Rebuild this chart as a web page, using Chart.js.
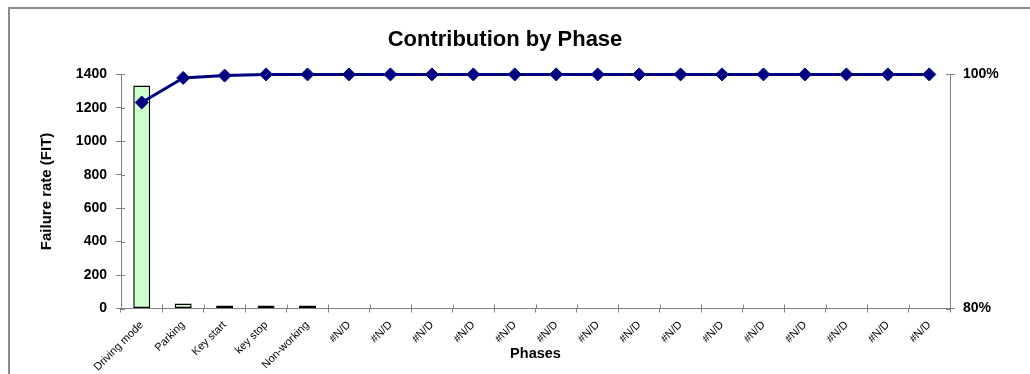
<!DOCTYPE html>
<html>
<head>
<meta charset="utf-8">
<script src="https://cdn.jsdelivr.net/npm/chart.js@4.4.1/dist/chart.umd.min.js"></script>
<style>
  html, body { margin: 0; padding: 0; background: #ffffff; overflow: hidden; }
  #frame { position: absolute; left: 8px; top: 7px; width: 1040px; height: 400px; border: 2px solid #8a8a8a; box-sizing: border-box; }
  #wrap { position: absolute; left: 0; top: 0; width: 1030px; height: 374px; }
</style>
</head>
<body>
<div id="frame"></div>
<div id="wrap"><canvas id="c" width="1030" height="374"></canvas></div>
<script>
const categories = ["Driving mode", "Parking", "Key start", "key stop", "Non-working",
  "#N/D", "#N/D", "#N/D", "#N/D", "#N/D", "#N/D", "#N/D", "#N/D", "#N/D", "#N/D",
  "#N/D", "#N/D", "#N/D", "#N/D", "#N/D"];
const failureRate = [1333, 30, 3, 3, 3, null, null, null, null, null, null, null, null, null, null, null, null, null, null, null];
const cumulativePct = [97.6, 99.7, 99.9, 100, 100, 100, 100, 100, 100, 100, 100, 100, 100, 100, 100, 100, 100, 100, 100, 100];
const leftTicks = [0, 200, 400, 600, 800, 1000, 1200, 1400];
const rightTicks = [80, 100];

const FONT = "'Liberation Sans', Arial, sans-serif";
const AXIS = '#808080';

// draws the inner half of Excel-style "cross" tick marks
const crossTicks = {
  id: 'crossTicks',
  afterDatasetsDraw(chart) {
    const ctx = chart.ctx;
    const x = chart.scales.x, y = chart.scales.y, y1 = chart.scales.y1;
    ctx.save();
    ctx.strokeStyle = AXIS;
    ctx.lineWidth = 1;
    ctx.beginPath();
    const half = (x.getPixelForValue(1) - x.getPixelForValue(0)) / 2;
    for (let i = 0; i <= categories.length; i++) {
      const px = Math.round(x.getPixelForValue(i) - half) + 0.5;
      ctx.moveTo(px, x.top);
      ctx.lineTo(px, x.top - 4);
    }
    leftTicks.forEach(v => {
      const py = Math.round(y.getPixelForValue(v)) + 0.5;
      ctx.moveTo(y.right, py);
      ctx.lineTo(y.right + 4, py);
    });
    rightTicks.forEach(v => {
      const py = Math.round(y1.getPixelForValue(v)) + 0.5;
      ctx.moveTo(y1.left, py);
      ctx.lineTo(y1.left - 4, py);
    });
    ctx.stroke();
    ctx.restore();
  }
};

new Chart(document.getElementById('c'), {
  data: {
    labels: categories,
    datasets: [
      {
        type: 'line',
        data: cumulativePct,
        yAxisID: 'y1',
        borderColor: '#000080',
        backgroundColor: '#000080',
        borderWidth: 3,
        pointStyle: 'rectRot',
        pointRadius: 6.5,
        pointBackgroundColor: '#000080',
        pointBorderColor: '#000080',
        pointBorderWidth: 1,
        tension: 0,
        clip: false,
        order: 0
      },
      {
        type: 'bar',
        data: failureRate,
        yAxisID: 'y',
        backgroundColor: '#ccffcc',
        borderColor: '#000000',
        borderWidth: 1.5,
        borderSkipped: false,
        minBarLength: 3,
        barPercentage: 0.41,
        categoryPercentage: 1,
        order: 1
      }
    ]
  },
  plugins: [crossTicks],
  options: {
    responsive: false,
    animation: false,
    events: [],
    layout: { padding: { left: 0, right: 20, top: 0, bottom: 0 } },
    plugins: {
      legend: { display: false },
      tooltip: { enabled: false },
      title: {
        display: true,
        text: 'Contribution by Phase',
        color: '#000000',
        font: { family: FONT, size: 22, weight: 'bold', lineHeight: 1.2 },
        padding: { top: 27, bottom: 21 }
      }
    },
    scales: {
      x: {
        offset: true,
        border: { display: true, color: AXIS, width: 1 },
        grid: { display: true, drawOnChartArea: false, offset: true, color: AXIS, tickLength: 4 },
        ticks: {
          color: '#000000',
          font: { family: FONT, size: 11 },
          maxRotation: 45, minRotation: 45,
          autoSkip: false,
          padding: 6
        },
        title: {
          display: true,
          text: 'Phases',
          color: '#000000',
          font: { family: FONT, size: 14.5, weight: 'bold' },
          padding: { top: 0, bottom: 11 }
        },
        afterFit(s) { s.height = 65.5; }
      },
      y: {
        position: 'left',
        min: 0, max: 1400,
        border: { display: true, color: AXIS, width: 1 },
        grid: { display: true, drawOnChartArea: false, color: AXIS, tickLength: 5 },
        ticks: {
          stepSize: 200,
          color: '#000000',
          font: { family: FONT, size: 14, weight: 'bold' },
          padding: 9,
          callback: v => String(v)
        },
        title: {
          display: true,
          text: 'Failure rate (FIT)',
          color: '#000000',
          font: { family: FONT, size: 15, weight: 'bold' },
          padding: { top: 38, bottom: 0 }
        },
        afterFit(s) { s.width = 121; }
      },
      y1: {
        position: 'right',
        min: 80, max: 100,
        border: { display: true, color: AXIS, width: 1 },
        grid: { display: true, drawOnChartArea: false, color: AXIS, tickLength: 5 },
        ticks: {
          stepSize: 20,
          color: '#000000',
          font: { family: FONT, size: 14, weight: 'bold' },
          padding: 8,
          callback: v => v + '%'
        },
        afterFit(s) { s.width = 60; }
      }
    }
  }
});
</script>
</body>
</html>
